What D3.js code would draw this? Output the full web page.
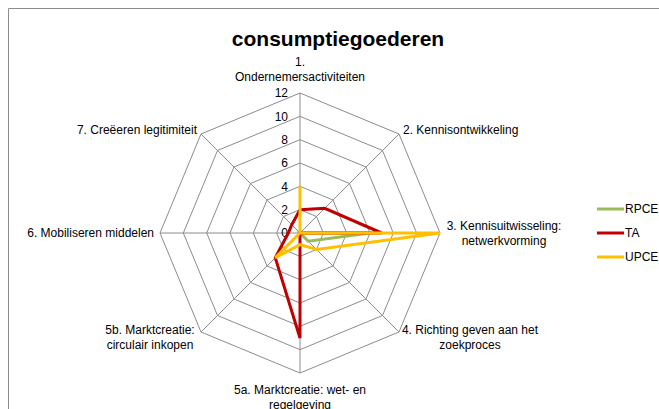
<!DOCTYPE html>
<meta charset="utf-8">
<style>
  body { margin: 0; background: #fff; }
  svg { font-family: "Liberation Sans", Arial, sans-serif; }
  .grid { fill: none; stroke: #8c8c8c; stroke-width: 1px; }
  .series { fill: none; stroke-width: 3px; stroke-linejoin: miter; }
  .lab { font-size: 12px; fill: #000; }
</style>
<svg width="659" height="409"></svg>
<script src="https://d3js.org/d3.v7.min.js"></script>
<script>
  // Data
  var categories = [
    ["1.", "Ondernemersactiviteiten"],
    ["2. Kennisontwikkeling"],
    ["3. Kennisuitwisseling:", "netwerkvorming"],
    ["4. Richting geven aan het", "zoekproces"],
    ["5a. Marktcreatie: wet- en", "regelgeving"],
    ["5b. Marktcreatie:", "circulair inkopen"],
    ["6. Mobiliseren middelen"],
    ["7. Creëeren legitimiteit"]
  ];
  var seriesNames = ["RPCE", "TA", "UPCE"];
  var rpce = [0, 0, 6, 1, 0, 0, 0, 0];
  var ta = [2, 3, 7, 0, 9, 3, 1, 1];
  var upce = [4, 0, 12, 2, 1, 3, 0, 0];
  var tickValues = [0, 2, 4, 6, 8, 10, 12];

  var colors = ["#9bbb59", "#c00000", "#ffc000"];
  var allSeries = [rpce, ta, upce];

  var svg = d3.select("svg");
  var cx = 300, cy = 233;

  var r = d3.scaleLinear().domain([0, 12]).range([0, 140]);
  var angle = d3.scaleLinear().domain([0, categories.length]).range([0, 2 * Math.PI]);

  function pt(i, v) {
    var a = angle(i);
    return [cx + r(v) * Math.sin(a), cy - r(v) * Math.cos(a)];
  }

  // outer frame
  svg.append("path")
    .attr("d", "M8.5,409V8.5H659")
    .attr("fill", "none")
    .attr("stroke", "#8c8c8c");

  // title
  svg.append("text")
    .attr("x", 338).attr("y", 46)
    .attr("text-anchor", "middle")
    .style("font-size", "21px")
    .style("font-weight", "bold")
    .text("consumptiegoederen");

  // grid rings
  var idx = d3.range(categories.length);
  tickValues.slice(1).forEach(function (t) {
    svg.append("path")
      .attr("class", "grid")
      .attr("d", d3.line()(idx.map(function (i) { return pt(i, t); })) + "Z");
  });
  // spokes
  idx.forEach(function (i) {
    var p = pt(i, 12);
    svg.append("line").attr("class", "grid")
      .attr("x1", cx).attr("y1", cy).attr("x2", p[0]).attr("y2", p[1]);
  });

  // tick labels
  svg.selectAll(".tick").data(tickValues).enter().append("text")
    .attr("class", "lab")
    .attr("x", cx - 12)
    .attr("y", function (d) { return cy - r(d); })
    .attr("dy", "0.35em")
    .attr("text-anchor", "end")
    .text(function (d) { return d; });

  // category labels: offset from the outer vertex
  var labelPos = [
    { dx: 0, dy: -31, anchor: "middle" },
    { dx: 4, dy: -4, anchor: "start" },
    { dx: 64, dy: -7, anchor: "middle" },
    { dx: 71, dy: -2, anchor: "middle" },
    { dx: 0, dy: 17, anchor: "middle" },
    { dx: -51, dy: -2, anchor: "middle" },
    { dx: -6, dy: 0, anchor: "end" },
    { dx: -4, dy: -4, anchor: "end" }
  ];
  categories.forEach(function (lines, i) {
    var p = pt(i, 12), lp = labelPos[i];
    var t = svg.append("text").attr("class", "lab")
      .attr("text-anchor", lp.anchor);
    lines.forEach(function (s, k) {
      t.append("tspan")
        .attr("x", p[0] + lp.dx)
        .attr("y", p[1] + lp.dy + k * 14.5)
        .attr("dy", "0.35em")
        .text(s);
    });
  });

  // series
  allSeries.forEach(function (vals, s) {
    svg.append("path")
      .attr("class", "series")
      .attr("stroke", colors[s])
      .attr("d", d3.line()(vals.map(function (v, i) { return pt(i, v); })) + "Z");
  });

  // legend
  var leg = svg.append("g").attr("transform", "translate(597,209)");
  seriesNames.forEach(function (n, i) {
    var g = leg.append("g").attr("transform", "translate(0," + i * 24 + ")");
    g.append("line").attr("x1", 0).attr("x2", 27).attr("y1", 0).attr("y2", 0)
      .attr("stroke", colors[i]).attr("stroke-width", 3);
    g.append("text").attr("class", "lab").attr("x", 28).attr("dy", "0.35em")
      .text(n);
  });
</script>
